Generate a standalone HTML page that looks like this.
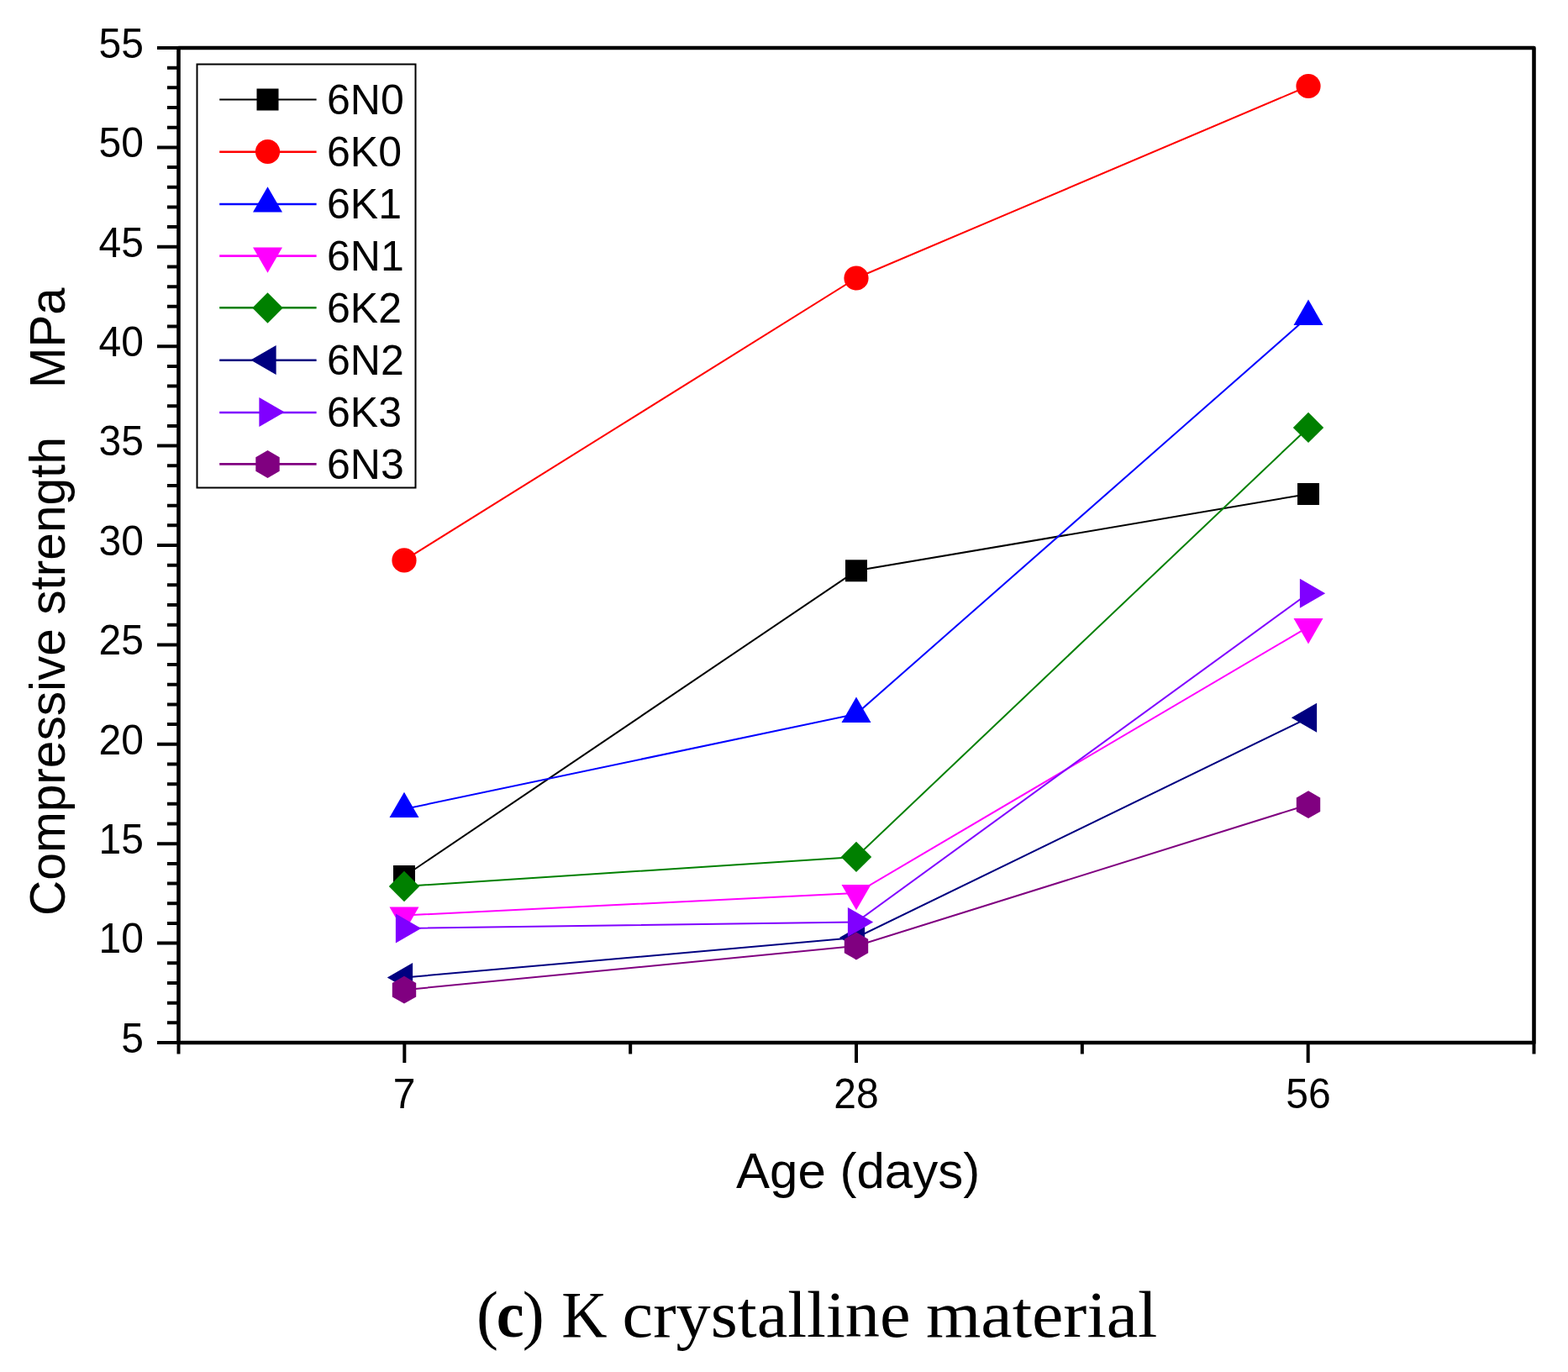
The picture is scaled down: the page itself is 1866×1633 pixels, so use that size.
<!DOCTYPE html>
<html><head><meta charset="utf-8"><title>Compressive strength - K crystalline material</title>
<style>
html,body{margin:0;padding:0;background:#fff;}
body{width:1866px;height:1633px;overflow:hidden;}
svg{display:block;}
.t{font-family:"Liberation Sans",Arial,sans-serif;fill:#000;}
.cap{font-family:"Liberation Serif","Times New Roman",serif;fill:#000;}
</style></head><body>
<svg width="1866" height="1633" viewBox="0 0 1866 1633">
<rect x="0" y="0" width="1866" height="1633" fill="#fff"/>
<polyline points="481.0,1043.0 1019.0,679.3 1557.0,588.0" fill="none" stroke="#000000" stroke-width="2"/>
<polyline points="481.0,666.9 1019.0,331.0 1557.0,102.5" fill="none" stroke="#ff0000" stroke-width="2"/>
<polyline points="481.0,963.0 1019.0,849.8 1557.0,376.8" fill="none" stroke="#0000ff" stroke-width="2"/>
<polyline points="481.0,1089.5 1019.0,1063.0 1557.0,746.2" fill="none" stroke="#ff00ff" stroke-width="2"/>
<polyline points="481.0,1055.0 1019.0,1019.9 1557.0,508.9" fill="none" stroke="#008000" stroke-width="2"/>
<polyline points="481.0,1163.5 1019.0,1116.0 1557.0,854.3" fill="none" stroke="#000080" stroke-width="2"/>
<polyline points="481.0,1105.0 1019.0,1097.5 1557.0,706.3" fill="none" stroke="#8000ff" stroke-width="2"/>
<polyline points="481.0,1178.2 1019.0,1126.0 1557.0,957.7" fill="none" stroke="#800080" stroke-width="2"/>
<rect x="468.00" y="1030.00" width="26.0" height="26.0" fill="#000000"/>
<rect x="1006.00" y="666.30" width="26.0" height="26.0" fill="#000000"/>
<rect x="1544.00" y="575.00" width="26.0" height="26.0" fill="#000000"/>
<circle cx="481.00" cy="666.90" r="14.6" fill="#ff0000"/>
<circle cx="1019.00" cy="331.00" r="14.6" fill="#ff0000"/>
<circle cx="1557.00" cy="102.50" r="14.6" fill="#ff0000"/>
<polygon points="481.00,942.80 498.50,973.10 463.50,973.10" fill="#0000ff"/>
<polygon points="1019.00,829.60 1036.50,859.90 1001.50,859.90" fill="#0000ff"/>
<polygon points="1557.00,356.60 1574.50,386.90 1539.50,386.90" fill="#0000ff"/>
<polygon points="481.00,1109.70 498.50,1079.40 463.50,1079.40" fill="#ff00ff"/>
<polygon points="1019.00,1083.20 1036.50,1052.90 1001.50,1052.90" fill="#ff00ff"/>
<polygon points="1557.00,766.40 1574.50,736.10 1539.50,736.10" fill="#ff00ff"/>
<polygon points="481.00,1036.80 499.20,1055.00 481.00,1073.20 462.80,1055.00" fill="#008000"/>
<polygon points="1019.00,1001.70 1037.20,1019.90 1019.00,1038.10 1000.80,1019.90" fill="#008000"/>
<polygon points="1557.00,490.70 1575.20,508.90 1557.00,527.10 1538.80,508.90" fill="#008000"/>
<polygon points="460.80,1163.50 491.10,1146.00 491.10,1181.00" fill="#000080"/>
<polygon points="998.80,1116.00 1029.10,1098.50 1029.10,1133.50" fill="#000080"/>
<polygon points="1536.80,854.30 1567.10,836.80 1567.10,871.80" fill="#000080"/>
<polygon points="501.20,1105.00 470.90,1087.50 470.90,1122.50" fill="#8000ff"/>
<polygon points="1039.20,1097.50 1008.90,1080.00 1008.90,1115.00" fill="#8000ff"/>
<polygon points="1577.20,706.30 1546.90,688.80 1546.90,723.80" fill="#8000ff"/>
<polygon points="481.00,1161.80 495.20,1170.00 495.20,1186.40 481.00,1194.60 466.80,1186.40 466.80,1170.00" fill="#800080"/>
<polygon points="1019.00,1109.60 1033.20,1117.80 1033.20,1134.20 1019.00,1142.40 1004.80,1134.20 1004.80,1117.80" fill="#800080"/>
<polygon points="1557.00,941.30 1571.20,949.50 1571.20,965.90 1557.00,974.10 1542.80,965.90 1542.80,949.50" fill="#800080"/>
<path d="M212.5,57.0 H1825.5 V1241.0 H212.5 Z" fill="none" stroke="#000" stroke-width="4.6" stroke-linejoin="round"/>
<path d="M187.0,1241.00H212.5M199.0,1217.32H212.5M199.0,1193.64H212.5M199.0,1169.96H212.5M199.0,1146.28H212.5M187.0,1122.60H212.5M199.0,1098.92H212.5M199.0,1075.24H212.5M199.0,1051.56H212.5M199.0,1027.88H212.5M187.0,1004.20H212.5M199.0,980.52H212.5M199.0,956.84H212.5M199.0,933.16H212.5M199.0,909.48H212.5M187.0,885.80H212.5M199.0,862.12H212.5M199.0,838.44H212.5M199.0,814.76H212.5M199.0,791.08H212.5M187.0,767.40H212.5M199.0,743.72H212.5M199.0,720.04H212.5M199.0,696.36H212.5M199.0,672.68H212.5M187.0,649.00H212.5M199.0,625.32H212.5M199.0,601.64H212.5M199.0,577.96H212.5M199.0,554.28H212.5M187.0,530.60H212.5M199.0,506.92H212.5M199.0,483.24H212.5M199.0,459.56H212.5M199.0,435.88H212.5M187.0,412.20H212.5M199.0,388.52H212.5M199.0,364.84H212.5M199.0,341.16H212.5M199.0,317.48H212.5M187.0,293.80H212.5M199.0,270.12H212.5M199.0,246.44H212.5M199.0,222.76H212.5M199.0,199.08H212.5M187.0,175.40H212.5M199.0,151.72H212.5M199.0,128.04H212.5M199.0,104.36H212.5M199.0,80.68H212.5M187.0,57.00H212.5M212.50,1241.0V1254.5M481.33,1241.0V1265.0M750.17,1241.0V1254.5M1019.00,1241.0V1265.0M1287.83,1241.0V1254.5M1556.67,1241.0V1265.0M1825.50,1241.0V1254.5" stroke="#000" stroke-width="4" fill="none"/>
<text class="t" font-size="50" text-anchor="end" transform="translate(171,1252.7) scale(0.96,1)">5</text>
<text class="t" font-size="50" text-anchor="end" transform="translate(171,1134.3) scale(0.96,1)">10</text>
<text class="t" font-size="50" text-anchor="end" transform="translate(171,1015.9) scale(0.96,1)">15</text>
<text class="t" font-size="50" text-anchor="end" transform="translate(171,897.5) scale(0.96,1)">20</text>
<text class="t" font-size="50" text-anchor="end" transform="translate(171,779.1) scale(0.96,1)">25</text>
<text class="t" font-size="50" text-anchor="end" transform="translate(171,660.7) scale(0.96,1)">30</text>
<text class="t" font-size="50" text-anchor="end" transform="translate(171,542.3) scale(0.96,1)">35</text>
<text class="t" font-size="50" text-anchor="end" transform="translate(171,423.9) scale(0.96,1)">40</text>
<text class="t" font-size="50" text-anchor="end" transform="translate(171,305.5) scale(0.96,1)">45</text>
<text class="t" font-size="50" text-anchor="end" transform="translate(171,187.1) scale(0.96,1)">50</text>
<text class="t" font-size="50" text-anchor="end" transform="translate(171,68.7) scale(0.96,1)">55</text>
<text class="t" font-size="50" text-anchor="middle" transform="translate(481.0,1318.5) scale(0.96,1)">7</text>
<text class="t" font-size="50" text-anchor="middle" transform="translate(1019.0,1318.5) scale(0.96,1)">28</text>
<text class="t" font-size="50" text-anchor="middle" transform="translate(1557.0,1318.5) scale(0.96,1)">56</text>
<text class="t" x="876" y="1414.3" font-size="60">Age (days)</text>
<text class="t" font-size="60" transform="translate(76.6,1090) rotate(-90) scale(0.977,1)">Compressive strength</text>
<text class="t" font-size="60" transform="translate(76.6,462) rotate(-90) scale(0.97,1)">MPa</text>
<rect x="234.5" y="76.5" width="260" height="504" fill="#fff" stroke="#000" stroke-width="2"/>
<line x1="261.2" y1="118.6" x2="376.6" y2="118.6" stroke="#000000" stroke-width="2.0"/>
<rect x="305.50" y="105.50" width="26.0" height="26.0" fill="#000000"/>
<text class="t" x="389" y="135.7" font-size="50">6N0</text>
<line x1="261.2" y1="180.8" x2="376.6" y2="180.8" stroke="#ff0000" stroke-width="2.6"/>
<circle cx="318.50" cy="180.50" r="14.6" fill="#ff0000"/>
<text class="t" x="389" y="197.7" font-size="50">6K0</text>
<line x1="261.2" y1="243.0" x2="376.6" y2="243.0" stroke="#0000ff" stroke-width="2.6"/>
<polygon points="318.50,222.30 336.00,252.60 301.00,252.60" fill="#0000ff"/>
<text class="t" x="389" y="259.7" font-size="50">6K1</text>
<line x1="261.2" y1="304.6" x2="376.6" y2="304.6" stroke="#ff00ff" stroke-width="2.6"/>
<polygon points="318.50,324.70 336.00,294.40 301.00,294.40" fill="#ff00ff"/>
<text class="t" x="389" y="321.7" font-size="50">6N1</text>
<line x1="261.2" y1="366.2" x2="376.6" y2="366.2" stroke="#008000" stroke-width="2.6"/>
<polygon points="318.50,348.30 336.70,366.50 318.50,384.70 300.30,366.50" fill="#008000"/>
<text class="t" x="389" y="383.7" font-size="50">6K2</text>
<line x1="261.2" y1="428.8" x2="376.6" y2="428.8" stroke="#000080" stroke-width="2.6"/>
<polygon points="298.30,428.50 328.60,411.00 328.60,446.00" fill="#000080"/>
<text class="t" x="389" y="445.7" font-size="50">6N2</text>
<line x1="261.2" y1="491.0" x2="376.6" y2="491.0" stroke="#8000ff" stroke-width="2.6"/>
<polygon points="338.70,490.50 308.40,473.00 308.40,508.00" fill="#8000ff"/>
<text class="t" x="389" y="507.7" font-size="50">6K3</text>
<line x1="261.2" y1="552.4" x2="376.6" y2="552.4" stroke="#800080" stroke-width="2.6"/>
<polygon points="318.50,536.10 332.70,544.30 332.70,560.70 318.50,568.90 304.30,560.70 304.30,544.30" fill="#800080"/>
<text class="t" x="389" y="569.7" font-size="50">6N3</text>
<text class="cap" font-size="78" transform="translate(567.00,1590.9) scale(1.0000,1)">(</text>
<text class="cap" font-size="78" font-weight="bold" transform="translate(590.70,1590.9) scale(0.9500,1)">c</text>
<text class="cap" font-size="78" transform="translate(621.70,1590.9) scale(1.0000,1)">)</text>
<text class="cap" font-size="78" transform="translate(668.30,1590.9) scale(0.9630,1)">K</text>
<text class="cap" font-size="78" transform="translate(740.60,1590.9) scale(1.0558,1)">crystalline</text>
<text class="cap" font-size="78" transform="translate(1101.90,1590.9) scale(1.0786,1)">material</text>
</svg></body></html>
